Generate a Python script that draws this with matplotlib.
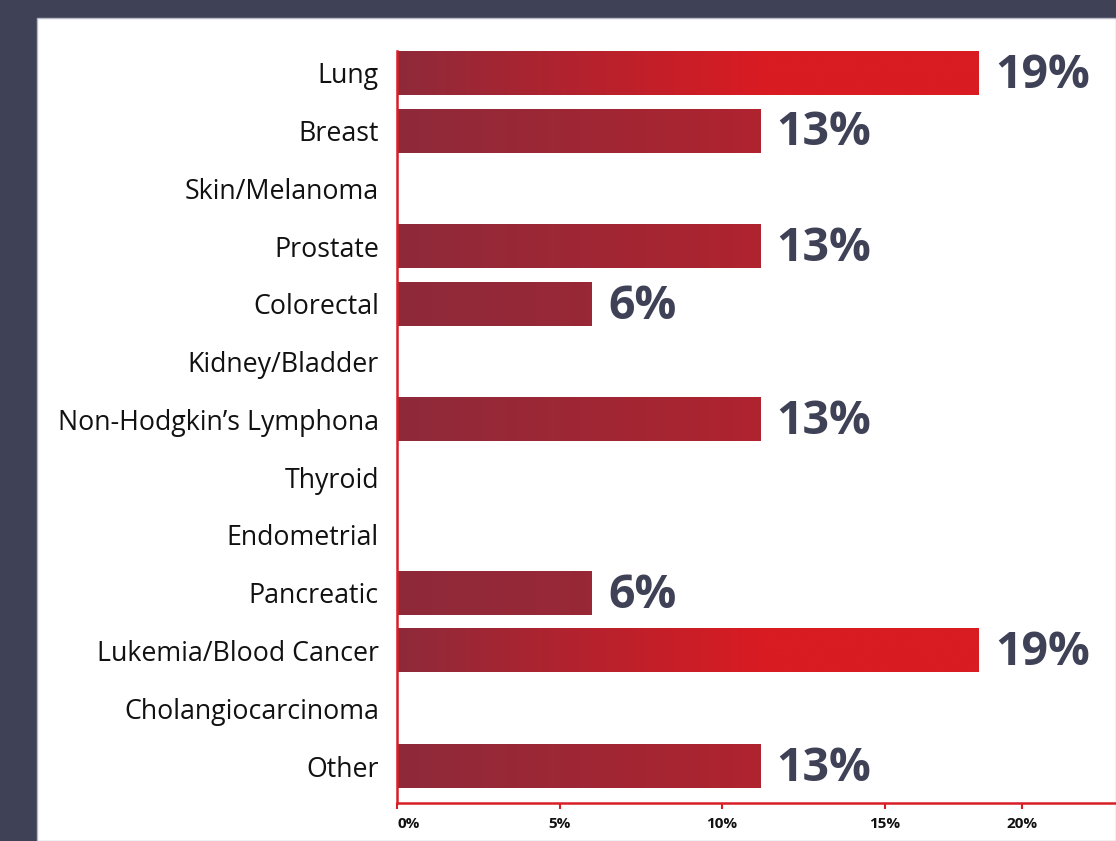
import numpy as np
import matplotlib.pyplot as plt
from matplotlib.colors import to_rgb
from matplotlib.patches import Rectangle

# Dane
categories = ["Lung", "Breast", "Skin/Melanoma", "Prostate", "Colorectal",
              "Kidney/Bladder", "Non-Hodgkin\u2019s Lymphona", "Thyroid",
              "Endometrial", "Pancreatic", "Lukemia/Blood Cancer",
              "Cholangiocarcinoma", "Other"]
# długości słupków odczytane na osi (w %)
bar_len = [17.9, 11.17, 0, 11.17, 6.0, 0, 11.17, 0, 0, 6.0, 17.9, 0, 11.17]
# etykiety wartości nad słupkami
pct_labels = ["19%", "13%", "", "13%", "6%", "", "13%", "", "", "6%", "19%", "", "13%"]
tick_pos = [0, 5, 10, 15, 19.23]
tick_labels = ["0%", "5%", "10%", "15%", "20%"]

# Styl
BG = "#3f4257"
RED = "#d71f26"
C0 = np.array(to_rgb("#8e2a3a"))
C1 = np.array(to_rgb("#d91b22"))
ramp = {"19%": 11.2, "13%": 24.8, "6%": 40.0}
BAR_H = 0.76

fig = plt.figure(figsize=(11.16, 8.41), dpi=100, facecolor=BG)
fig.patches.append(Rectangle((37 / 1116, 0), 1 - 37 / 1116, 1 - 18 / 841,
                             transform=fig.transFigure, facecolor="white",
                             edgecolor="#b8b8c4", linewidth=1.0, zorder=-5))

ax = fig.add_axes([397 / 1116, 38 / 841, 719 / 1116, (803 - 18) / 841])
ax.set_facecolor("none")
ax.set_zorder(2)

y = np.arange(len(categories))

for yi, L, lab in zip(y, bar_len, pct_labels):
    if L <= 0:
        continue
    xs = np.linspace(0, L, 512)
    t = np.clip(xs / ramp[lab], 0, 1)[:, None]
    cols = C0 * (1 - t) + C1 * t
    ax.imshow(cols[None, :, :], extent=[0, L, yi + BAR_H / 2, yi - BAR_H / 2],
              aspect="auto", interpolation="bilinear", zorder=2)
    ax.annotate(lab, (L, yi + 0.04), xytext=(12, 0), textcoords="offset points",
                ha="left", va="center", fontsize=33.5, fontweight="bold",
                family="Open Sans", color=BG)

ax.set_xlim(0, 719 / 32.5)
ax.set_ylim(len(categories) - 1 + 0.64, -0.95)

ax.set_yticks(y)
ax.set_yticklabels(categories, fontsize=19.3, family="Open Sans", color="#111111")
ax.tick_params(axis="y", length=0, pad=13)

ax.set_xticks(tick_pos)
ax.set_xticklabels(tick_labels, fontsize=11, fontweight="bold", family="Open Sans",
                   color="#111111")
ax.tick_params(axis="x", length=4, width=1.5, color=RED, pad=6)
ax.get_xticklabels()[0].set_ha("left")

for s in ["top", "right"]:
    ax.spines[s].set_visible(False)
for s in ["left", "bottom"]:
    ax.spines[s].set_color(RED)
    ax.spines[s].set_linewidth(1.8)
ax.spines["left"].set_bounds(-BAR_H / 2, len(categories) - 1 + 0.64)

fig.savefig("out.png", dpi=100, facecolor=BG)
